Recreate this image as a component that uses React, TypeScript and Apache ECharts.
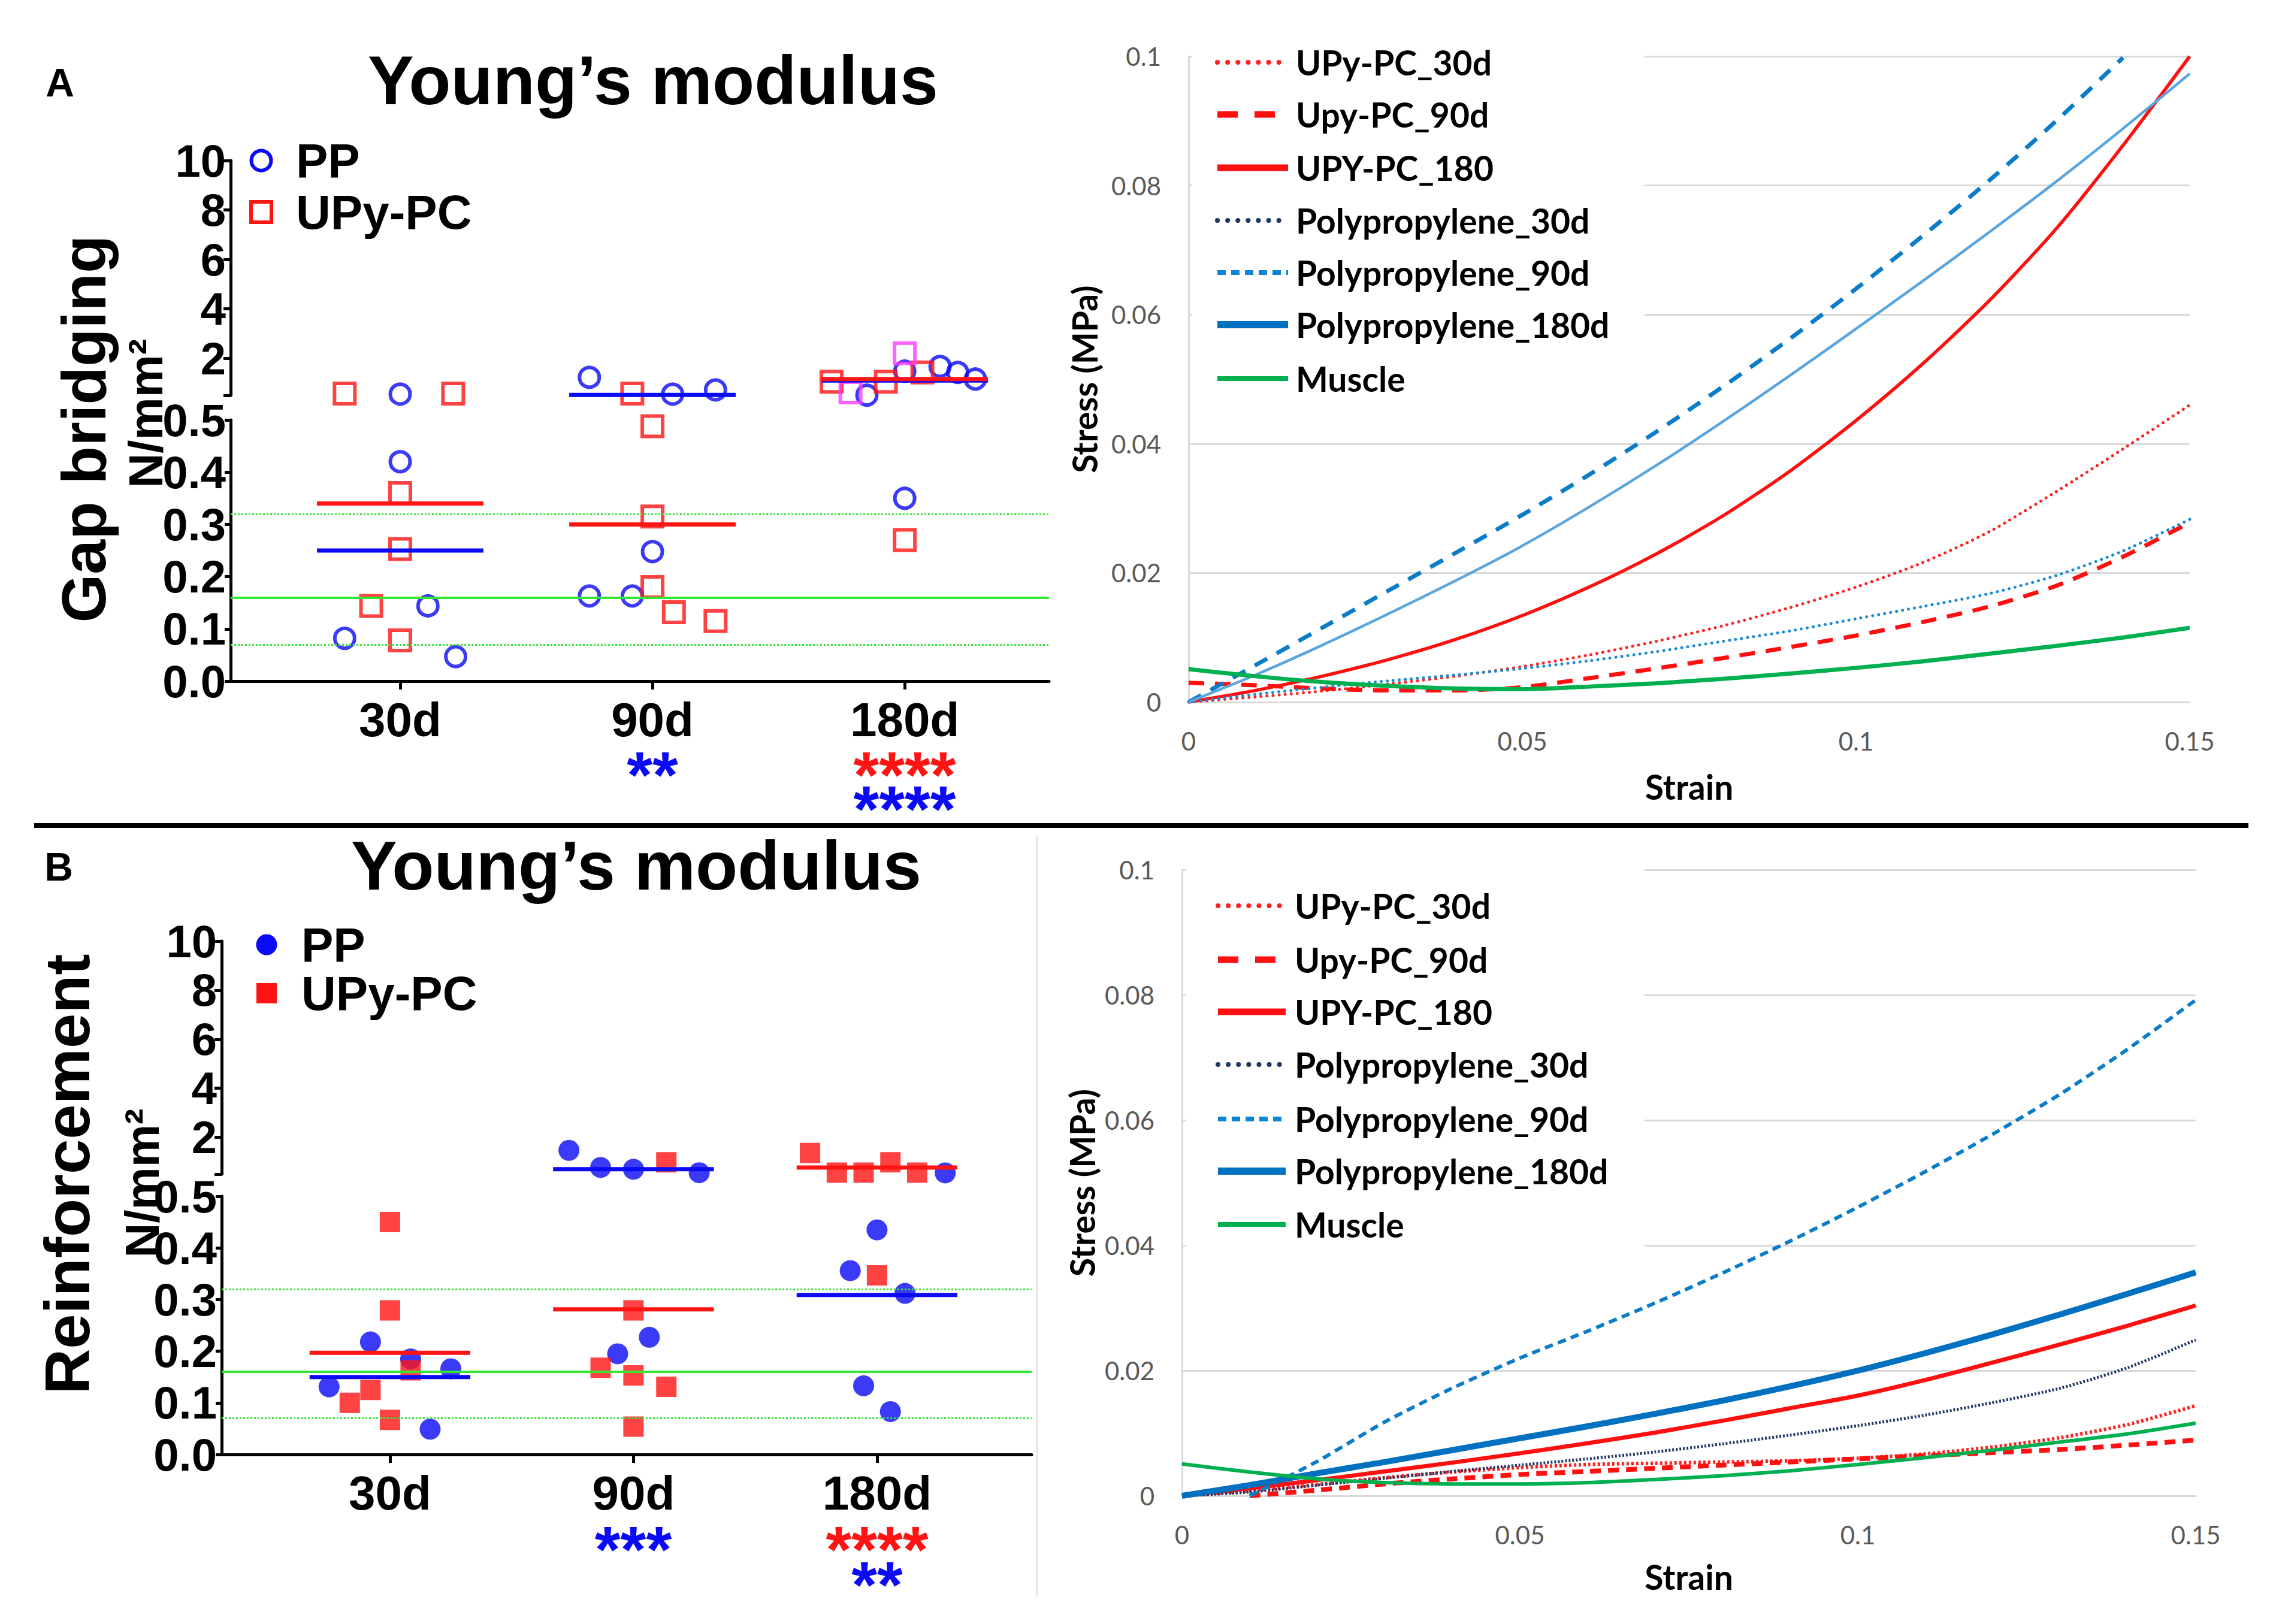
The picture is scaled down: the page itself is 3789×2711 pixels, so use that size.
import React, { useEffect, useRef } from "react";
import * as echarts from "echarts";

// ---------- categories / ticks ----------
const categories = ["30d", "90d", "180d"];
const upperTicks = [2, 4, 6, 8, 10];
const muscleBand = [0.07, 0.16, 0.32]; // lower bound, mean, upper bound of muscle modulus

// ---------- Panel A: gap bridging, Young's modulus (N/mm2), one inner array per time point ----------
const gapPP = [[0.55, 0.42, 0.144, 0.082, 0.047], [1.23, 0.55, 0.72, 0.248, 0.163, 0.163], [0.51, 1.48, 1.67, 1.43, 1.16, 0.35]];
const gapPPJitter = [[0, 0, 0.11, -0.22, 0.22], [-0.25, 0.08, 0.25, 0, -0.25, -0.08], [-0.15, 0, 0.14, 0.21, 0.28, 0]];
const gapUPy = [[0.57, 0.57, 0.36, 0.253, 0.144, 0.078], [0.57, 0.488, 0.315, 0.18, 0.132, 0.115], [1.05, 1.05, 1.43, 0.27]];
const gapUPyJitter = [[-0.22, 0.21, 0, 0, -0.115, 0], [-0.08, 0, 0, 0, 0.085, 0.25], [-0.29, -0.075, 0.07, 0]];
const gapUPyMarked = [[], [], [0.62, 2.2]];
const gapUPyMarkedJitter = [[], [], [-0.215, 0]];
const gapPPMean = [0.25, 0.52, 1.1];
const gapUPyMean = [0.34, 0.3, 1.16];

// ---------- Panel B: reinforcement ----------
const reinPP = [[0.218, 0.131, 0.166, 0.049, 0.185], [1.47, 0.77, 0.7, 0.556, 0.195, 0.227], [0.55, 0.435, 0.356, 0.312, 0.133, 0.083]];
const reinPPJitter = [[-0.08, -0.25, 0.25, 0.165, 0.085], [-0.265, -0.135, 0, 0.27, -0.065, 0.065], [0.28, 0, -0.11, 0.115, -0.055, 0.055]];
const reinUPy = [[0.45, 0.279, 0.163, 0.125, 0.1, 0.067], [0.98, 0.279, 0.168, 0.153, 0.131, 0.054], [1.36, 0.56, 0.56, 0.98, 0.56, 0.347]];
const reinUPyJitter = [[0, 0, 0.085, -0.08, -0.165, 0], [0.135, 0, -0.135, 0, 0.135, 0], [-0.275, -0.165, -0.055, 0.055, 0.165, 0]];
const reinPPMean = [0.15, 0.7, 0.309];
const reinUPyMean = [0.197, 0.281, 0.77];

// ---------- significance marks (UPy-PC row above PP row) ----------
const gapStarsUPy = ["", "", "****"];
const gapStarsPP = ["", "**", "****"];
const reinStarsUPy = ["", "", "****"];
const reinStarsPP = ["", "***", "**"];

// ---------- stress-strain curves ----------
const strain = [0, 0.01, 0.02, 0.03, 0.04, 0.05, 0.06, 0.07, 0.08, 0.09, 0.1, 0.11, 0.12, 0.13, 0.14, 0.15];
const curveNames = ["UPy-PC_30d", "Upy-PC_90d", "UPY-PC_180", "Polypropylene_30d", "Polypropylene_90d", "Polypropylene_180d", "Muscle"];

const gapUPy30 = [0, 0.0008, 0.0017, 0.0028, 0.004, 0.0055, 0.0073, 0.0094, 0.0118, 0.0146, 0.0178, 0.0216, 0.0264, 0.0326, 0.0392, 0.046];
const gapUPy90 = [0.003, 0.0026, 0.0021, 0.0018, 0.0018, 0.0023, 0.0037, 0.0052, 0.0068, 0.0085, 0.0103, 0.0124, 0.0148, 0.018, 0.0225, 0.0278];
const gapUPy180 = [0, 0.0018, 0.004, 0.0066, 0.0097, 0.0134, 0.0178, 0.0229, 0.0288, 0.0357, 0.0436, 0.0524, 0.0622, 0.0733, 0.0862, 0.1];
const gapPP30 = [0, 0.0012, 0.0023, 0.0033, 0.0042, 0.0052, 0.0064, 0.0078, 0.0094, 0.011, 0.0129, 0.0148, 0.0168, 0.0196, 0.0234, 0.0283];
const gapPP90 = [0, 0.0057, 0.0115, 0.0173, 0.0231, 0.029, 0.0352, 0.0418, 0.0488, 0.0562, 0.064, 0.0722, 0.0808, 0.09, 0.0998, null];
const gapPP180 = [0, 0.0042, 0.0088, 0.0137, 0.0188, 0.0242, 0.0302, 0.0366, 0.0434, 0.0505, 0.0578, 0.0652, 0.0728, 0.0806, 0.0888, 0.0973];
const gapMuscle = [0.0051, 0.004, 0.0031, 0.0025, 0.0021, 0.002, 0.0024, 0.0029, 0.0036, 0.0044, 0.0053, 0.0063, 0.0075, 0.0087, 0.01, 0.0115];

const reinUPy30 = [0, 0.0008, 0.0018, 0.0029, 0.0038, 0.0045, 0.005, 0.0052, 0.0054, 0.0056, 0.006, 0.0067, 0.0078, 0.0093, 0.0114, 0.0144];
const reinUPy90 = [null, 0, 0.0009, 0.0019, 0.0027, 0.0034, 0.0039, 0.0044, 0.0049, 0.0054, 0.0059, 0.0064, 0.0069, 0.0074, 0.0081, 0.0089];
const reinUPy180 = [0, 0.0012, 0.0025, 0.0039, 0.0053, 0.0068, 0.0084, 0.0101, 0.012, 0.014, 0.016, 0.0185, 0.0213, 0.0242, 0.0272, 0.0304];
const reinPP30 = [0, 0.0006, 0.0017, 0.0028, 0.0039, 0.0049, 0.0059, 0.007, 0.0083, 0.0097, 0.0112, 0.0129, 0.0149, 0.0172, 0.0205, 0.0249];
const reinPP90 = [null, 0, 0.0055, 0.0118, 0.0172, 0.022, 0.0263, 0.0308, 0.0356, 0.0407, 0.0461, 0.0518, 0.0578, 0.0642, 0.0714, 0.0792];
const reinPP180 = [0, 0.0017, 0.0036, 0.0054, 0.0073, 0.0092, 0.0111, 0.0131, 0.0152, 0.0175, 0.02, 0.0228, 0.0258, 0.029, 0.0323, 0.0357];
const reinMuscle = [0.0051, 0.0038, 0.0027, 0.0021, 0.0019, 0.0019, 0.0021, 0.0026, 0.0032, 0.004, 0.005, 0.0061, 0.0073, 0.0086, 0.0099, 0.0116];

// ---------- styles ----------
const PRISM_FONT = "'Liberation Sans', Arial, sans-serif";
const XL_FONT = "Lato, 'Liberation Sans', sans-serif";
const BLUE = "#0A0AF5";
const RED = "#FF1414";
const MAGENTA = "#FF3CFF";
const GREEN = "#33E633";

type LS = { color: string; width: number; dash?: number[]; cap?: string };
const curveStyleA: LS[] = [
  { color: "#FF2020", width: 5, dash: [0.1, 10], cap: "round" },
  { color: "#FF1010", width: 7, dash: [26, 18] },
  { color: "#FF1010", width: 5.5 },
  { color: "#1A8AD4", width: 5, dash: [0.1, 10], cap: "round" },
  { color: "#0A7CC8", width: 7, dash: [24, 18] },
  { color: "#5AA5DE", width: 4.5 },
  { color: "#00B050", width: 7 },
];
const curveStyleB: LS[] = [
  { color: "#FF2020", width: 6, dash: [4, 4] },
  { color: "#FF1010", width: 8, dash: [18, 12] },
  { color: "#FF1010", width: 7 },
  { color: "#203864", width: 5, dash: [3, 3] },
  { color: "#0A7CC8", width: 6, dash: [14, 9] },
  { color: "#0070C0", width: 10 },
  { color: "#00B050", width: 6 },
];
const legendStyle: LS[] = [
  { color: "#FF2020", width: 8, dash: [0.1, 17], cap: "round" },
  { color: "#FF1010", width: 11, dash: [34, 28] },
  { color: "#FF1010", width: 11 },
  { color: "#203864", width: 8, dash: [0.1, 17], cap: "round" },
  { color: "#0A84D6", width: 8, dash: [14, 9] },
  { color: "#0070C0", width: 12 },
  { color: "#00B050", width: 8 },
];

function buildOption() {
  const gridA = [
    { left: 385, top: 268, width: 1366, height: 392 },
    { left: 385, top: 701, width: 1366, height: 436 },
    { left: 1984, top: 94, width: 1671, height: 1078 },
  ];
  const gridB = [
    { left: 370, top: 1571, width: 1352, height: 389 },
    { left: 370, top: 1997, width: 1352, height: 431 },
    { left: 1973, top: 1452, width: 1692, height: 1045 },
  ];
  const grid = [...gridA, ...gridB].map((g) => ({ ...g, containLabel: false, outerBoundsMode: "none" }));

  const xAxis: any[] = [];
  const yAxis: any[] = [];
  const series: any[] = [];
  const graphic: any[] = [];

  const blackLine = { show: true, onZero: false, lineStyle: { color: "#000", width: 5 } };
  const prismLabel = { fontFamily: PRISM_FONT, fontWeight: "bold", color: "#000" };

  const scatterPanels = [
    { base: 0, xMin: -0.672, xMax: 2.572, pp: gapPP, ppJ: gapPPJitter, upy: gapUPy, upyJ: gapUPyJitter, marked: gapUPyMarked, markedJ: gapUPyMarkedJitter, ppMean: gapPPMean, upyMean: gapUPyMean, hollow: true },
    { base: 3, xMin: -0.691, xMax: 2.635, pp: reinPP, ppJ: reinPPJitter, upy: reinUPy, upyJ: reinUPyJitter, marked: null, markedJ: null, ppMean: reinPPMean, upyMean: reinUPyMean, hollow: false },
  ];

  const pts = (vals: number[][], jit: number[][], upper: boolean) => {
    const out: number[][] = [];
    vals.forEach((arr, g) => arr.forEach((v, i) => { if ((v > 0.5) === upper) out.push([g + jit[g][i], v]); }));
    return out;
  };

  scatterPanels.forEach((p) => {
    const up = p.base, lo = p.base + 1;
    xAxis[up] = { gridIndex: up, type: "value", min: p.xMin, max: p.xMax, show: false, axisLine: { onZero: false } };
    yAxis[up] = {
      gridIndex: up, type: "value", min: 0.5, max: 10,
      axisLine: blackLine,
      axisTick: { show: true, customValues: [0.5, ...upperTicks], length: 12, lineStyle: { color: "#000", width: 5 } },
      axisLabel: { customValues: upperTicks, fontSize: 76, margin: 8, ...prismLabel },
      splitLine: { show: false },
    };
    xAxis[lo] = {
      gridIndex: lo, type: "value", min: p.xMin, max: p.xMax,
      axisLine: blackLine,
      axisTick: { show: true, customValues: [0, 1, 2], length: 14, lineStyle: { color: "#000", width: 5 } },
      axisLabel: { customValues: [0, 1, 2], formatter: (v: number) => categories[Math.round(v)], fontSize: 80, margin: 24, ...prismLabel },
      splitLine: { show: false },
    };
    yAxis[lo] = {
      gridIndex: lo, type: "value", min: 0, max: 0.5, interval: 0.1,
      axisLine: blackLine,
      axisTick: { show: true, length: 10, lineStyle: { color: "#000", width: 5 } },
      axisLabel: { formatter: (v: number) => v.toFixed(1), fontSize: 76, margin: 8, ...prismLabel },
      splitLine: { show: false },
    };

    const ppStyle = p.hollow
      ? { symbol: "circle", symbolSize: 33, itemStyle: { color: "rgba(0,0,0,0)", borderColor: BLUE, borderWidth: 6 } }
      : { symbol: "circle", symbolSize: 35, itemStyle: { color: BLUE } };
    const upyStyle = p.hollow
      ? { symbol: "rect", symbolSize: 34, itemStyle: { color: "rgba(0,0,0,0)", borderColor: RED, borderWidth: 6 } }
      : { symbol: "rect", symbolSize: 34, itemStyle: { color: RED } };

    series.push({
      type: "line", xAxisIndex: lo, yAxisIndex: lo, data: [], silent: true, z: 1,
      markLine: {
        silent: true, symbol: "none", label: { show: false },
        data: [
          { yAxis: muscleBand[0], lineStyle: { color: GREEN, width: 3, type: [3, 3] } },
          { yAxis: muscleBand[1], lineStyle: { color: GREEN, width: 4, type: "solid" } },
          { yAxis: muscleBand[2], lineStyle: { color: GREEN, width: 3, type: [3, 3] } },
        ],
      },
    });

    [up, lo].forEach((ax) => {
      const isUp = ax === up;
      series.push({ type: "scatter", name: "PP", xAxisIndex: ax, yAxisIndex: ax, data: pts(p.pp, p.ppJ, isUp), ...ppStyle, z: 4, clip: false });
      series.push({ type: "scatter", name: "UPy-PC", xAxisIndex: ax, yAxisIndex: ax, data: pts(p.upy, p.upyJ, isUp), ...upyStyle, z: 4, clip: false });
      if (p.marked) {
        series.push({
          type: "scatter", name: "UPy-PC marked", xAxisIndex: ax, yAxisIndex: ax, data: pts(p.marked, p.markedJ!, isUp),
          symbol: "rect", symbolSize: 34, itemStyle: { color: "rgba(0,0,0,0)", borderColor: MAGENTA, borderWidth: 6 }, z: 4, clip: false,
        });
      }
    });

    const pushMeans = (means: number[], color: string) => {
      means.forEach((m, g) => {
        const ax = m > 0.5 ? up : lo;
        series.push({
          type: "line", xAxisIndex: ax, yAxisIndex: ax, data: [[g - 0.33, m], [g + 0.33, m]],
          symbol: "none", silent: true, z: 5, lineStyle: { color, width: 7 },
        });
      });
    };
    pushMeans(p.ppMean, BLUE);
    pushMeans(p.upyMean, RED);
  });

  // ---------- stress-strain panels ----------
  const curvePanels = [
    { idx: 2, data: [gapUPy30, gapUPy90, gapUPy180, gapPP30, gapPP90, gapPP180, gapMuscle], styles: curveStyleA, nameGapY: 146, nameGapX: 112 },
    { idx: 5, data: [reinUPy30, reinUPy90, reinUPy180, reinPP30, reinPP90, reinPP180, reinMuscle], styles: curveStyleB, nameGapY: 139, nameGapX: 106 },
  ];
  const fmt = (v: number) => String(parseFloat(v.toFixed(3)));
  const gray = "#D9D9D9";
  curvePanels.forEach((c) => {
    xAxis[c.idx] = {
      gridIndex: c.idx, type: "value", min: 0, max: 0.15, interval: 0.05,
      axisLine: { show: true, onZero: false, lineStyle: { color: gray, width: 3 } },
      axisTick: { show: false },
      axisLabel: { formatter: fmt, fontSize: 42, color: "#595959", fontFamily: XL_FONT, margin: 44 },
      splitLine: { show: false },
      name: "Strain", nameLocation: "middle", nameGap: c.nameGapX,
      nameTextStyle: { fontSize: 57, fontWeight: "bold", color: "#000", fontFamily: XL_FONT },
    };
    yAxis[c.idx] = {
      gridIndex: c.idx, type: "value", min: 0, max: 0.1, interval: 0.02,
      axisLine: { show: true, onZero: false, lineStyle: { color: gray, width: 3 } },
      axisTick: { show: false },
      axisLabel: { formatter: fmt, fontSize: 42, color: "#595959", fontFamily: XL_FONT, margin: 46 },
      splitLine: { show: true, lineStyle: { color: gray, width: 3 } },
      name: "Stress (MPa)", nameLocation: "middle", nameGap: c.nameGapY, nameRotate: 90,
      nameTextStyle: { fontSize: 57, fontWeight: "bold", color: "#000", fontFamily: XL_FONT },
    };
    c.data.forEach((vals, k) => {
      const s = c.styles[k];
      series.push({
        type: "line", name: curveNames[k], xAxisIndex: c.idx, yAxisIndex: c.idx,
        data: strain.map((x, i) => [x, vals[i]]).filter((d) => d[1] !== null),
        symbol: "none", smooth: 0.25, silent: true, z: 3 + k * 0.01,
        lineStyle: { color: s.color, width: s.width, type: s.dash ?? "solid", cap: s.cap ?? "butt" },
      });
    });
  });

  // ---------- graphic decorations ----------
  const txt = (x: number, y: number, text: string, size: number, opts: any = {}) => ({
    type: "text", x, y, rotation: opts.rotation ?? 0, z: 10,
    style: {
      text, fontSize: size, fontWeight: opts.weight ?? "bold", fontFamily: opts.family ?? PRISM_FONT,
      fill: opts.fill ?? "#000", align: opts.align ?? "center", verticalAlign: opts.vAlign ?? "middle",
      rich: opts.rich,
    },
  });

  graphic.push(txt(100, 138, "A", 66));
  graphic.push(txt(98, 1447, "B", 66));
  graphic.push(txt(1090, 134, "Young’s modulus", 115));
  graphic.push(txt(1062, 1445, "Young’s modulus", 115));
  graphic.push(txt(140, 716, "Gap bridging", 104, { rotation: Math.PI / 2 }));
  graphic.push(txt(112, 1960, "Reinforcement", 105, { rotation: Math.PI / 2 }));
  graphic.push(txt(243, 690, "N/mm²", 80, { rotation: Math.PI / 2 }));
  graphic.push(txt(237, 1975, "N/mm²", 80, { rotation: Math.PI / 2 }));

  const scatterLegend = (cx: number, y1: number, y2: number, hollow: boolean) => {
    graphic.push({ type: "circle", z: 10, shape: { cx, cy: y1, r: hollow ? 16.5 : 17.5 }, style: hollow ? { fill: "none", stroke: BLUE, lineWidth: 6 } : { fill: BLUE } });
    graphic.push({ type: "rect", z: 10, shape: { x: cx - 17, y: y2 - 17, width: 34, height: 34 }, style: hollow ? { fill: "none", stroke: RED, lineWidth: 6 } : { fill: RED } });
    graphic.push(txt(cx + 58, y1, "PP", 80, { align: "left" }));
    graphic.push(txt(cx + 58, y2, "UPy-PC", 80, { align: "left" }));
  };
  scatterLegend(436, 268, 354, true);
  scatterLegend(445, 1577, 1658, false);

  // significance asterisks: one (possibly two-line) text per time point
  const STAR = 110;
  const stars = (centers: number[], upyMarks: string[], ppMarks: string[], yUpy: number, yPP: number) => {
    centers.forEach((cx, g) => {
      const u = upyMarks[g], pp = ppMarks[g];
      if (u && pp) {
        const lh = yPP - yUpy;
        graphic.push(txt(cx, yUpy + 9 + lh / 2, `{r|${u}}\n{b|${pp}}`, STAR, {
          rich: {
            r: { fill: RED, fontSize: STAR, fontWeight: "bold", fontFamily: PRISM_FONT, lineHeight: lh, align: "center" },
            b: { fill: BLUE, fontSize: STAR, fontWeight: "bold", fontFamily: PRISM_FONT, lineHeight: lh, align: "center" },
          },
        }));
      } else if (pp) {
        graphic.push(txt(cx, yUpy + 9, pp, STAR, { fill: BLUE }));
      } else if (u) {
        graphic.push(txt(cx, yUpy + 9, u, STAR, { fill: RED }));
      }
    });
  };
  stars([668, 1089, 1510], gapStarsUPy, gapStarsPP, 1283, 1340);
  stars([651, 1057, 1464], reinStarsUPy, reinStarsPP, 2576, 2635);

  graphic.push({ type: "line", z: 10, shape: { x1: 57, y1: 1378, x2: 3753, y2: 1378 }, style: { stroke: "#000", lineWidth: 8 } });
  graphic.push({ type: "line", z: 10, shape: { x1: 1731, y1: 1395, x2: 1731, y2: 2665 }, style: { stroke: "#E3E3E3", lineWidth: 3 } });

  const curveLegend = (boxX: number, boxY: number, boxW: number, boxH: number, lx1: number, lx2: number, tx: number, rows: number[]) => {
    graphic.push({ type: "rect", z: 1, shape: { x: boxX, y: boxY, width: boxW, height: boxH }, style: { fill: "#fff" } });
    curveNames.forEach((n, i) => {
      const s = legendStyle[i];
      graphic.push({
        type: "line", z: 10, shape: { x1: lx1, y1: rows[i], x2: lx2, y2: rows[i] },
        style: { stroke: s.color, lineWidth: s.width, lineDash: s.dash ?? null, lineCap: s.cap ?? "butt" },
      });
      graphic.push(txt(tx, rows[i], n, 57, { align: "left", family: XL_FONT }));
    });
  };
  curveLegend(1990, 60, 755, 620, 2032, 2150, 2163, [104, 191, 280, 368, 455, 542, 632]);
  curveLegend(1979, 1440, 766, 655, 2033, 2146, 2161, [1512, 1602, 1689, 1777, 1868, 1955, 2044]);

  return { animation: false, backgroundColor: "#fff", grid, xAxis, yAxis, series, graphic };
}

export default function App() {
  const ref = useRef<HTMLDivElement>(null);
  useEffect(() => {
    document.body.style.margin = "0";
    const chart = echarts.init(ref.current!, null, { renderer: "svg" });
    chart.setOption(buildOption() as any);
    return () => chart.dispose();
  }, []);
  return <div ref={ref} style={{ position: "absolute", left: 0, top: 0, width: 3789, height: 2711, background: "#fff" }} />;
}
